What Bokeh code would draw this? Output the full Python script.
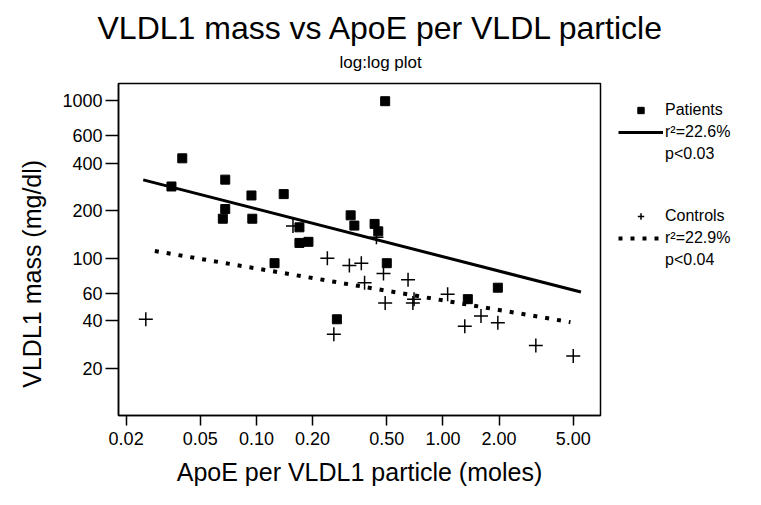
from bokeh.plotting import figure
from bokeh.models import Range1d, FixedTicker, Legend, LegendItem, Title
from bokeh.embed import file_html
from bokeh.resources import INLINE

# ---- data ----
patients_x = [0.035, 0.040, 0.066, 0.068, 0.068, 0.094, 0.095, 0.125, 0.14, 0.17,
              0.17, 0.19, 0.27, 0.32, 0.335, 0.43, 0.45, 0.49, 0.50, 1.36, 1.97]
patients_y = [285, 430, 178, 205, 315, 250, 178, 93, 255, 157,
              125, 127, 41, 187, 161, 165, 148, 990, 93, 55, 65]

controls_x = [0.0255, 0.157, 0.24, 0.26, 0.315, 0.365, 0.38, 0.44, 0.48, 0.49,
              0.65, 0.69, 0.70, 1.06, 1.31, 1.6, 1.97, 3.15, 5.0]
controls_y = [41, 160, 100, 33, 90, 93, 70, 136, 80, 52,
              73, 52, 55, 59, 37, 43, 39, 28, 24]

patients_fit_x = [0.0247, 5.5]
patients_fit_y = [314, 61]
controls_fit_x = [0.0285, 4.83]
controls_fit_y = [111, 39.3]

x_ticks = [0.02, 0.05, 0.1, 0.2, 0.5, 1, 2, 5]
x_tick_labels = ["0.02", "0.05", "0.10", "0.20", "0.50", "1.00", "2.00", "5.00"]
y_ticks = [20, 40, 60, 100, 200, 400, 600, 1000]
y_tick_labels = ["20", "40", "60", "100", "200", "400", "600", "1000"]

legend_labels = ["Patients", "r\u00b2=22.6%", "p<0.03", " ", "  ",
                 "Controls", "r\u00b2=22.9%", "p<0.04"]

FONT = "Liberation Sans"

p = figure(frame_width=482, frame_height=332, x_axis_type="log", y_axis_type="log",
           x_range=Range1d(0.0182, 7.0), y_range=Range1d(10.06, 1282),
           output_backend="svg", toolbar_location=None,
           title="VLDL1 mass vs ApoE per VLDL particle",
           min_border_left=118, min_border_right=145,
           min_border_top=83, min_border_bottom=74)

p.background_fill_color = "white"
p.border_fill_color = "white"
p.outline_line_color = "black"
p.outline_line_width = 1.5
p.grid.visible = False

# titles
p.title.text_font = FONT
p.title.text_font_size = "32px"
p.title.text_font_style = "normal"
p.title.text_color = "black"
p.title.align = "left"
p.title.offset = -21
p.title.standoff = -14
sub = Title(text="log:log plot", text_font=FONT, text_color="black",
            text_font_size="17px", text_font_style="normal", align="left",
            offset=221, standoff=24)
p.add_layout(sub, "above")

# axes
for ax in (p.xaxis[0], p.yaxis[0]):
    ax.axis_line_color = "black"
    ax.axis_line_width = 1.5
    ax.major_tick_line_color = "black"
    ax.major_tick_line_width = 1.5
    ax.major_tick_in = 0
    ax.minor_tick_line_color = None
    ax.major_label_text_font = FONT
    ax.major_label_text_font_size = "18px"
    ax.major_label_text_color = "black"
    ax.axis_label_text_font = FONT
    ax.axis_label_text_font_style = "normal"
    ax.axis_label_text_color = "black"

p.xaxis.ticker = FixedTicker(ticks=x_ticks)
p.xaxis.major_label_overrides = dict(zip(x_ticks, x_tick_labels))
p.xaxis.major_tick_out = 10
p.xaxis.major_label_standoff = 6
p.xaxis.axis_label = "ApoE per VLDL1 particle (moles)"
p.xaxis.axis_label_text_font_size = "25px"
p.xaxis.axis_label_standoff = 10

p.yaxis.ticker = FixedTicker(ticks=y_ticks)
p.yaxis.major_label_overrides = dict(zip(y_ticks, y_tick_labels))
p.yaxis.major_tick_out = 13
p.yaxis.major_label_standoff = 3
p.yaxis.axis_label = "VLDL1 mass (mg/dl)" + "\u00a0" * 7
p.yaxis.axis_label_text_font_size = "25px"
p.yaxis.axis_label_standoff = 13

# data
r_pat = p.scatter(patients_x, patients_y, marker="square", size=9,
                  fill_color="black", line_color="black")
r_con = p.scatter(controls_x, controls_y, marker="cross", size=14,
                  line_color="black", line_width=1.5)
r_pfit = p.line(patients_fit_x, patients_fit_y, line_color="black", line_width=3)
r_cfit = p.line(controls_fit_x, controls_fit_y, line_color="black", line_width=4,
                line_dash="4 8")

blank = [p.line([], [], line_alpha=0) for _ in range(4)]

items = [
    LegendItem(label=legend_labels[0], renderers=[r_pat]),
    LegendItem(label=legend_labels[1], renderers=[r_pfit]),
    LegendItem(label=legend_labels[2], renderers=[blank[0]]),
    LegendItem(label=legend_labels[3], renderers=[blank[1]]),
    LegendItem(label=legend_labels[4], renderers=[blank[2]]),
    LegendItem(label=legend_labels[5], renderers=[r_con]),
    LegendItem(label=legend_labels[6], renderers=[r_cfit]),
    LegendItem(label=legend_labels[7], renderers=[blank[3]]),
]
legend = Legend(items=items, location="top_left",
                label_text_font=FONT, label_text_font_size="16px",
                label_text_color="black",
                label_height=16, glyph_height=16, glyph_width=45,
                label_standoff=2, spacing=4, padding=10, margin=18,
                border_line_color=None, background_fill_alpha=0)
p.add_layout(legend, "right")

open("out.html", "w").write(file_html(p, INLINE))
